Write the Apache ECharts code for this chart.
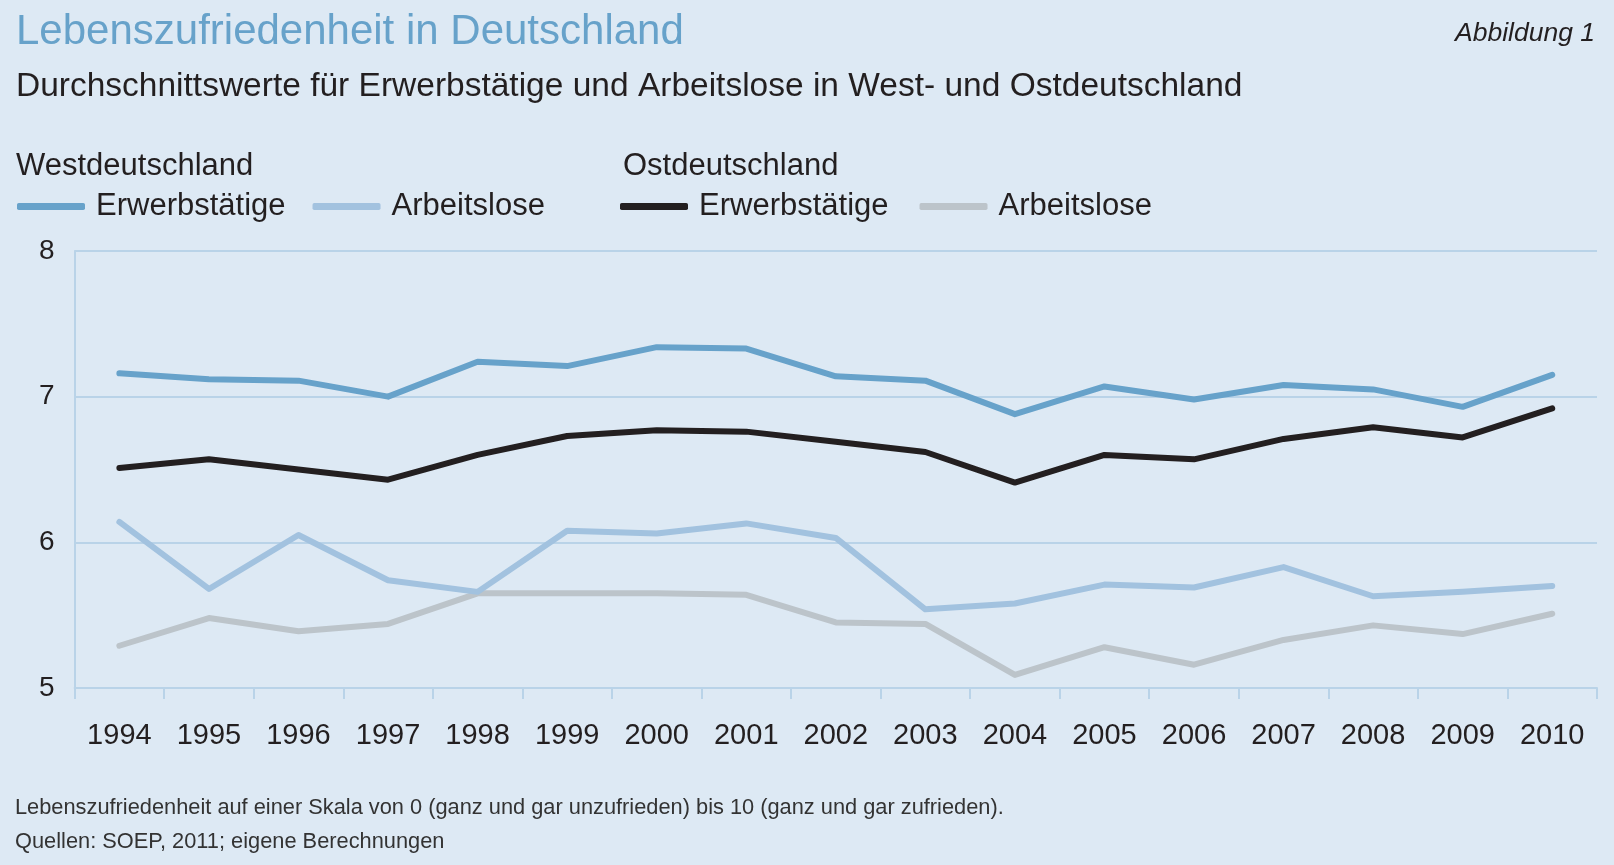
<!DOCTYPE html>
<html>
<head>
<meta charset="utf-8">
<script src="https://cdn.jsdelivr.net/npm/echarts@6/dist/echarts.min.js"></script>
<style>
html,body{margin:0;padding:0;background:#dde9f4;}
#chart{width:1614px;height:865px;}
</style>
</head>
<body>
<div id="chart"></div>
<script>
const years = ['1994','1995','1996','1997','1998','1999','2000','2001','2002','2003','2004','2005','2006','2007','2008','2009','2010'];
const westErwerbstaetige = [7.16,7.12,7.11,7.00,7.24,7.21,7.34,7.33,7.14,7.11,6.88,7.07,6.98,7.08,7.05,6.93,7.15];
const westArbeitslose   = [6.14,5.68,6.05,5.74,5.66,6.08,6.06,6.13,6.03,5.54,5.58,5.71,5.69,5.83,5.63,5.66,5.70];
const ostErwerbstaetige = [6.51,6.57,6.50,6.43,6.60,6.73,6.77,6.76,6.69,6.62,6.41,6.60,6.57,6.71,6.79,6.72,6.92];
const ostArbeitslose    = [5.29,5.48,5.39,5.44,5.65,5.65,5.65,5.64,5.45,5.44,5.09,5.28,5.16,5.33,5.43,5.37,5.51];
const yTicks = [5,6,7,8];

const FONT = '"Liberation Sans", Arial, Helvetica, sans-serif';
const TEXT = '#231f20';
const GRIDC = '#b9d3e8';

const chart = echarts.init(document.getElementById('chart'), null, {renderer:'canvas'});

function lineSeries(name, data, color, z){
  return {
    name: name, type: 'line', data: data, showSymbol: false, symbol: 'none',
    z: z, animation: false,
    lineStyle: {color: color, width: 6, cap: 'round', join: 'round'},
    itemStyle: {color: color}
  };
}

function txt(size, color, extra){
  return Object.assign({fontFamily: FONT, fontSize: size, fontWeight: 'normal', color: color}, extra || {});
}

chart.setOption({
  backgroundColor: '#dde9f4',
  animation: false,
  title: [
    {text: 'Lebenszufriedenheit in Deutschland', left: 16, top: 11, padding: 0,
     textStyle: txt(42, '#67a2ca')},
    {text: 'Durchschnittswerte für Erwerbstätige und Arbeitslose in West- und Ostdeutschland', left: 16, top: 70, padding: 0,
     textStyle: txt(33.5, TEXT)},
    {text: 'Abbildung 1', right: 19, top: 20, padding: 0,
     textStyle: txt(26.5, TEXT, {fontStyle: 'italic'})},
    {text: 'Westdeutschland', left: 16, top: 151, padding: 0,
     textStyle: txt(31, TEXT)},
    {text: 'Ostdeutschland', left: 623, top: 151, padding: 0,
     textStyle: txt(31, TEXT)},
    {text: 'Lebenszufriedenheit auf einer Skala von 0 (ganz und gar unzufrieden) bis 10 (ganz und gar zufrieden).', left: 15, top: 797, padding: 0,
     textStyle: txt(21.8, '#333333')},
    {text: 'Quellen: SOEP, 2011; eigene Berechnungen', left: 15, top: 831, padding: 0,
     textStyle: txt(21.8, '#333333')}
  ],
  legend: [
    {left: 17, top: 191, padding: 0, itemWidth: 68, itemHeight: 7, itemGap: 27, icon: 'roundRect',
     data: ['West Erwerbstätige','West Arbeitslose'], selectedMode: false,
     formatter: function(n){ return n.replace('West ',''); },
     textStyle: {fontFamily: FONT, fontSize: 31, color: TEXT, padding: [0,0,0,6]}},
    {left: 620, top: 191, padding: 0, itemWidth: 68, itemHeight: 7, itemGap: 31, icon: 'roundRect',
     data: ['Ost Erwerbstätige','Ost Arbeitslose'], selectedMode: false,
     formatter: function(n){ return n.replace('Ost ',''); },
     textStyle: {fontFamily: FONT, fontSize: 31, color: TEXT, padding: [0,0,0,6]}}
  ],
  grid: {left: 74.6, right: 17, top: 251, bottom: 177, containLabel: false},
  xAxis: {
    type: 'category', data: years, boundaryGap: true,
    axisLine: {show: true, lineStyle: {color: GRIDC, width: 2}},
    axisTick: {show: true, length: 11, inside: false, interval: 0, lineStyle: {color: GRIDC, width: 2}},
    axisLabel: {fontFamily: FONT, fontSize: 29, color: TEXT, margin: 33, interval: 0},
    splitLine: {show: false}
  },
  yAxis: {
    type: 'value', min: yTicks[0], max: yTicks[yTicks.length-1], interval: 1,
    axisLine: {show: true, onZero: false, lineStyle: {color: GRIDC, width: 2}},
    axisTick: {show: false},
    axisLabel: {fontFamily: FONT, fontSize: 28, color: TEXT, margin: 20, padding: [5,0,0,0]},
    splitLine: {show: true, lineStyle: {color: GRIDC, width: 2}}
  },
  series: [
    lineSeries('Ost Arbeitslose', ostArbeitslose, '#bcc4ca', 2),
    lineSeries('West Arbeitslose', westArbeitslose, '#a2c2df', 3),
    lineSeries('Ost Erwerbstätige', ostErwerbstaetige, '#231f20', 4),
    lineSeries('West Erwerbstätige', westErwerbstaetige, '#67a2ca', 5)
  ]
});
</script>
</body>
</html>
